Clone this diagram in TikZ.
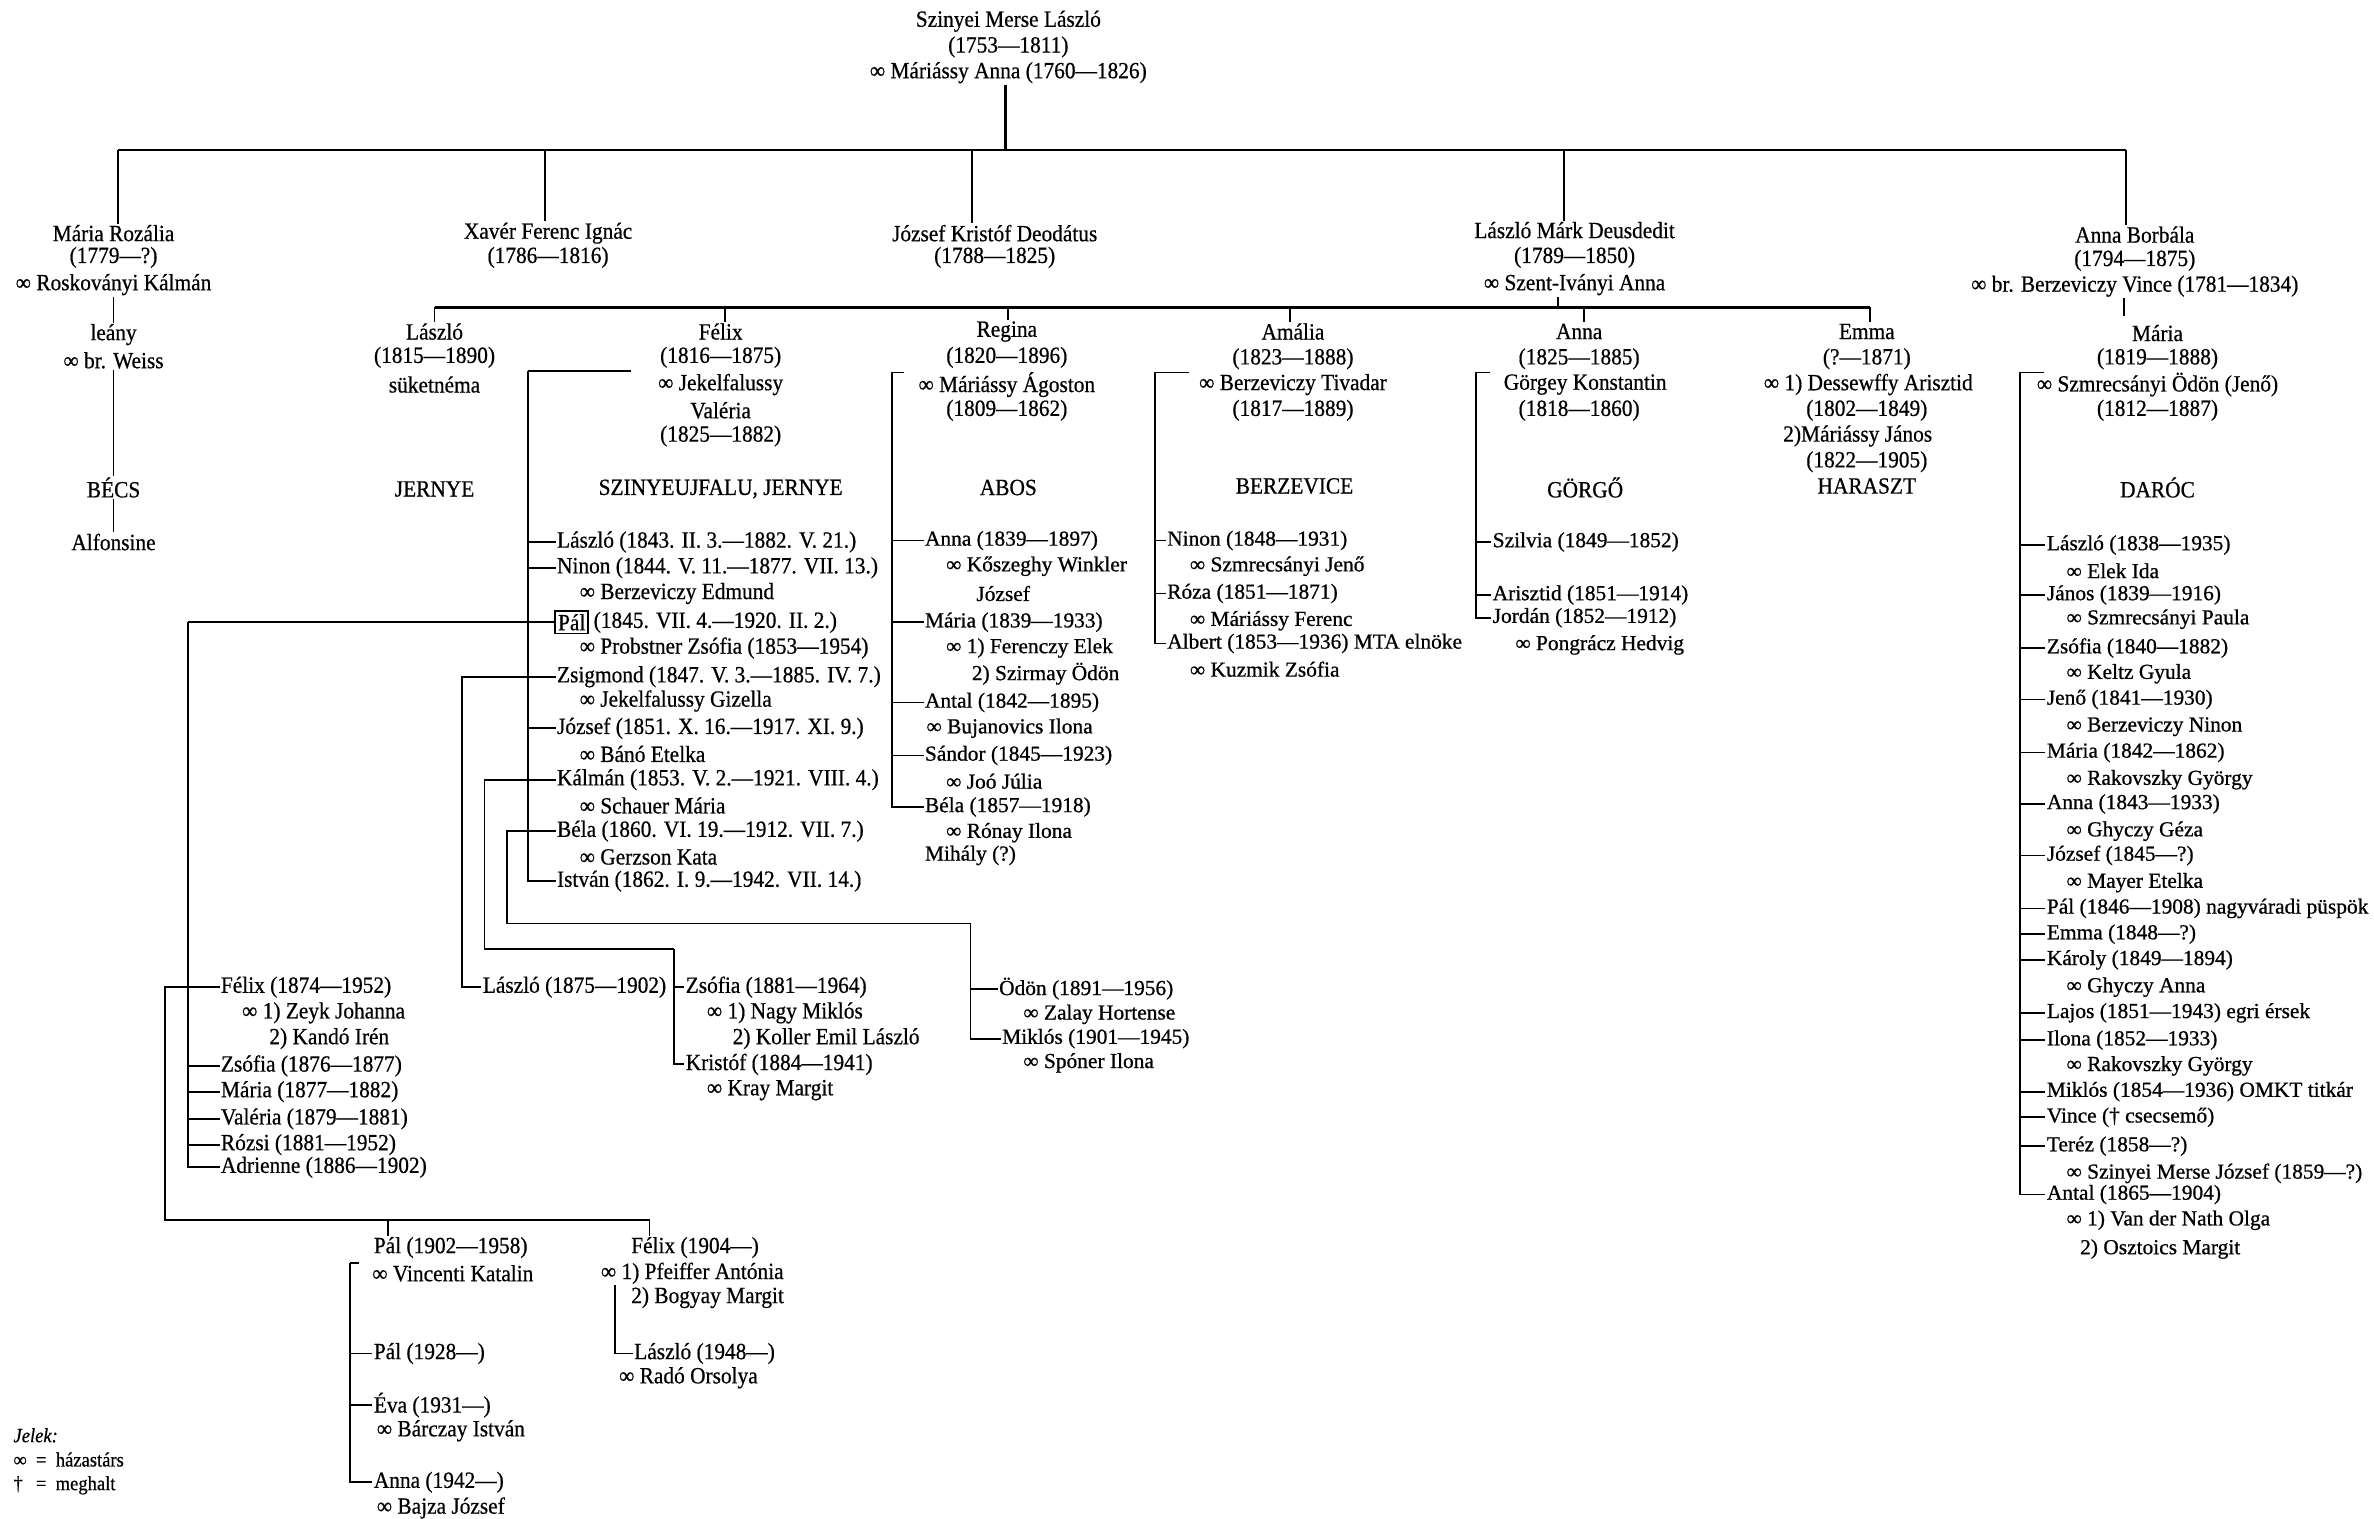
\documentclass[tikz,border=0pt]{standalone}
\usepackage{fontspec}
\setmainfont{Liberation Serif}
\newfontfamily\narrowfont[FakeStretch=0.92, FakeBold=0.6]{Liberation Serif}
\newfontfamily\widefont[FakeBold=0.8]{Liberation Serif}
\usetikzlibrary{positioning}

\begin{document}
\begin{tikzpicture}[x=0.75pt, y=-0.75pt,
	nar/.style={font=\narrowfont\fontsize{11.5}{13}\selectfont, inner sep=0.5pt},
	wid/.style={font=\widefont\fontsize{10.6}{12.5}\selectfont, inner sep=0.5pt},
	nl/.style={nar, anchor=west},
	wl/.style={wid, anchor=west},
	ln/.style={line width=0.9pt},
	bar/.style={line width=1.2pt}]
	\path[use as bounding box] (0,0) rectangle (1568,1003);
	
	% founder
	\node[nar] (root) at (666,14) {Szinyei Merse László};
	\node[nar] (rootd) at (666,31) {(1753—1811)};
	\node[nar] (roots) at (666,48) {∞ Máriássy Anna (1760—1826)};
	\coordinate (top) at (664,99);
	\draw[bar] (top |- roots.south) -- (top);
	
	% first generation
	\node[nar] (mr) at (75,154) {Mária Rozália};
	\node[nar] (mrd) at (75,170) {(1779—?)};
	\node[nar] (mrs) at (75,188) {∞ Roskoványi Kálmán};
	\node[nar] (ly) at (75,221) {leány};
	\node[nar] (lys) at (75,238) {∞ br. Weiss};
	\node[nar] (becs) at (75,322) {BÉCS};
	\node[nar] (alf) at (75,358) {Alfonsine};
	\draw[ln] (mrs) -- (ly);
	\draw[ln] (lys) -- (becs);
	\draw[ln] (becs) -- (alf);
	
	\node[nar] (xf) at (362,154) {Xavér Ferenc Ignác};
	\node[nar] (xfd) at (362,170) {(1786—1816)};
	
	\node[nar] (jk) at (657,154) {József Kristóf Deodátus};
	\node[nar] (jkd) at (657,170) {(1788—1825)};
	
	\node[nar] (lm) at (1040,152) {László Márk Deusdedit};
	\node[nar] (lmd) at (1040,170) {(1789—1850)};
	\node[nar] (lms) at (1040,188) {∞ Szent-Iványi Anna};
	
	\node[nar] (ab) at (1410,155) {Anna Borbála};
	\node[nar] (abd) at (1410,172) {(1794—1875)};
	\node[nar] (abs) at (1410,189) {∞ br. Berzeviczy Vince (1781—1834)};
	
	\coordinate (bl) at (78,99);
	\coordinate (brt) at (1404,99);
	\coordinate (dxf) at (360,99);
	\coordinate (djk) at (642,99);
	\coordinate (dlm) at (1033,99);
	\draw[bar] (bl) -- (brt);
	\draw[ln] (bl) -- (bl |- mr.north);
	\draw[ln] (brt) -- (brt |- ab.north);
	\foreach \d/\n in {dxf/xf, djk/jk, dlm/lm}
		\draw[ln] (\d) -- (\d |- \n.north);
	
	% Anna Borbala -> Maria
	\node[nar] (ma) at (1425,220) {Mária};
	\node[nar] (mad) at (1425,237) {(1819—1888)};
	\node[nar] (mas) at (1425,254) {∞ Szmrecsányi Ödön (Jenő)};
	\node[nar] (mas2) at (1425,271) {(1812—1887)};
	\node[nar] (daroc) at (1425,322) {DARÓC};
	\coordinate (abm) at (1403,209);
	\draw[ln] (abm |- abs.south) -- (abm);
	
	% second generation
	\node[nar] (la) at (287,219) {László};
	\node[nar] (lad) at (287,236) {(1815—1890)};
	\node[nar] (las) at (287,254) {süketnéma};
	\node[nar] (jernye) at (287,323) {JERNYE};
	
	\node[nar] (fe) at (476,219) {Félix};
	\node[nar] (fed) at (476,236) {(1816—1875)};
	\node[nar] (fes) at (476,254) {∞ Jekelfalussy};
	\node[nar] (fes2) at (476,271) {Valéria};
	\node[nar] (fes3) at (476,288) {(1825—1882)};
	\node[nar] (szu) at (476,323) {SZINYEUJFALU, JERNYE};
	
	\node[nar] (re) at (665,219) {Regina};
	\node[nar] (red) at (665,236) {(1820—1896)};
	\node[nar] (res) at (665,254) {∞ Máriássy Ágoston};
	\node[nar] (res2) at (665,271) {(1809—1862)};
	\node[nar] (abos) at (666,322) {ABOS};
	
	\node[nar] (am) at (854,219) {Amália};
	\node[nar] (amd) at (854,237) {(1823—1888)};
	\node[nar] (ams) at (854,254) {∞ Berzeviczy Tivadar};
	\node[nar] (ams2) at (854,271) {(1817—1889)};
	\node[nar] (berz) at (855,321) {BERZEVICE};
	
	\node[nar] (an) at (1043,219) {Anna};
	\node[nar] (annd) at (1043,237) {(1825—1885)};
	\node[nar] (anns) at (1047,254) {Görgey Konstantin};
	\node[nar] (anns2) at (1043,271) {(1818—1860)};
	\node[nar] (gorgo) at (1047,322) {GÖRGŐ};
	
	\node[nar] (em) at (1233,219) {Emma};
	\node[nar] (emd) at (1233,237) {(?—1871)};
	\node[nar] (ems) at (1234,254) {∞ 1) Dessewffy Arisztid};
	\node[nar] (ems2) at (1233,271) {(1802—1849)};
	\node[nar] (ems3) at (1227,288) {2)Máriássy János};
	\node[nar] (ems4) at (1233,305) {(1822—1905)};
	\node[nar] (har) at (1233,321) {HARASZT};
	
	\coordinate (gl) at (287,203);
	\coordinate (gr) at (1235,203);
	\coordinate (gm) at (1029,203);
	\coordinate (dfe) at (479,203);
	\coordinate (dre) at (666,203);
	\coordinate (dam) at (852,203);
	\coordinate (dan) at (1046,203);
	\draw[bar] (gl) -- (gr);
	\draw[ln] (gm) -- (gm |- lms.south);
	\draw[ln] (gl) -- (gl |- la.north);
	\draw[ln] (gr) -- (gr |- em.north);
	\foreach \d/\n in {dfe/fe, dre/re, dam/am, dan/an}
		\draw[ln] (\d) -- (\d |- \n.north);
	
	% Felix's children
	\coordinate (bf) at (349,245);
	\coordinate (bft) at (417,245);
	\node[nl] (fc1) at (367,358) {László (1843. II. 3.—1882. V. 21.)};
	\node[nl] (fc2) at (367,375) {Ninon (1844. V. 11.—1877. VII. 13.)};
	\node[nl] (fc2s) at (382,392) {∞ Berzeviczy Edmund};
	\node[nl, draw, line width=0.9pt, inner sep=1.5pt] (fc3) at (366,411) {Pál};
	\node[nl] (fc3d) at ([xshift=1.5pt]fc3.east) {(1845. VII. 4.—1920. II. 2.)};
	\node[nl] (fc3s) at (382,428) {∞ Probstner Zsófia (1853—1954)};
	\node[nl] (fc4) at (367,447) {Zsigmond (1847. V. 3.—1885. IV. 7.)};
	\node[nl] (fc4s) at (382,463) {∞ Jekelfalussy Gizella};
	\node[nl] (fc5) at (367,481) {József (1851. X. 16.—1917. XI. 9.)};
	\node[nl] (fc5s) at (382,498) {∞ Bánó Etelka};
	\node[nl] (fc6) at (367,515) {Kálmán (1853. V. 2.—1921. VIII. 4.)};
	\node[nl] (fc6s) at (382,532) {∞ Schauer Mária};
	\node[nl] (fc7) at (367,549) {Béla (1860. VI. 19.—1912. VII. 7.)};
	\node[nl] (fc7s) at (382,566) {∞ Gerzson Kata};
	\node[nl] (fc8) at (367,582) {István (1862. I. 9.—1942. VII. 14.)};
	\draw[ln] (bft) -- (bf);
	\foreach \c in {fc1,fc2,fc3,fc4,fc5,fc6,fc7,fc8}
		\draw[ln] (bf) |- (\c.west);
	
	% Pal's children
	\coordinate (pg) at (124,411);
	\node[nl] (g1) at (145,652) {Félix (1874—1952)};
	\node[nl] (g1s) at (159,669) {∞ 1) Zeyk Johanna};
	\node[nl] (g1s2) at (177,686) {2) Kandó Irén};
	\node[nl] (g2) at (145,704) {Zsófia (1876—1877)};
	\node[nl] (g3) at (145,721) {Mária (1877—1882)};
	\node[nl] (g4) at (145,739) {Valéria (1879—1881)};
	\node[nl] (g5) at (145,756) {Rózsi (1881—1952)};
	\node[nl] (g6) at (145,771) {Adrienne (1886—1902)};
	\draw[ln] (fc3.west) -- (pg);
	\foreach \c in {g1,g2,g3,g4,g5,g6}
		\draw[ln] (pg) |- (\c.west);
	
	% Zsigmond's son
	\coordinate (zg) at (305,447);
	\node[nl] (zl) at (318,652) {László (1875—1902)};
	\draw[ln] (fc4.west) -- (zg) |- (zl.west);
	
	% Kalman's children
	\coordinate (kg) at (320,515);
	\coordinate (kg2) at (445,627);
	\node[nl] (k1) at (452,652) {Zsófia (1881—1964)};
	\node[nl] (k1s) at (466,669) {∞ 1) Nagy Miklós};
	\node[nl] (k1s2) at (483,686) {2) Koller Emil László};
	\node[nl] (k2) at (452,703) {Kristóf (1884—1941)};
	\node[nl] (k2s) at (466,720) {∞ Kray Margit};
	\draw[ln] (fc6.west) -- (kg) |- (kg2);
	\draw[ln] (kg2) |- (k1.west);
	\draw[ln] (kg2) |- (k2.west);
	
	% Bela's children
	\coordinate (bg) at (335,549);
	\coordinate (bg2) at (641,610);
	\node[wl] (b1) at (659,653) {Ödön (1891—1956)};
	\node[wl] (b1s) at (675,670) {∞ Zalay Hortense};
	\node[wl] (b2) at (661,686) {Miklós (1901—1945)};
	\node[wl] (b2s) at (675,702) {∞ Spóner Ilona};
	\draw[ln] (fc7.west) -- (bg) |- (bg2);
	\draw[ln] (bg2) |- (b1.west);
	\draw[ln] (bg2) |- (b2.west);
	
	% Felix (1874) children
	\coordinate (fg) at (109,652);
	\coordinate (hd1) at (256,806);
	\coordinate (hd2) at (429,806);
	\node[nl] (h1) at (246,824) {Pál (1902—1958)};
	\node[nl] (h1s) at (245,841) {∞ Vincenti Katalin};
	\node[nl] (h2) at (416,824) {Félix (1904—)};
	\node[nl] (h2s) at (396,841) {∞ 1) Pfeiffer Antónia};
	\node[nl] (h2s2) at (416,857) {2) Bogyay Margit};
	\draw[ln] (g1.west) -- (fg) |- (hd2) -- (hd2 |- h2.north);
	\draw[ln] (hd1) -- (hd1 |- h1.north);
	
	\coordinate (hb) at (231,834);
	\coordinate (hbt) at (237,834);
	\node[nl] (h1c1) at (246,894) {Pál (1928—)};
	\node[nl] (h1c2) at (246,928) {Éva (1931—)};
	\node[nl] (h1c2s) at (248,945) {∞ Bárczay István};
	\node[nl] (h1c3) at (246,979) {Anna (1942—)};
	\node[nl] (h1c3s) at (248,996) {∞ Bajza József};
	\draw[ln] (hbt) -- (hb);
	\foreach \c in {h1c1,h1c2,h1c3}
		\draw[ln] (hb) |- (\c.west);
	
	\coordinate (fl) at (406,849);
	\node[nl] (h2c) at (418,894) {László (1948—)};
	\node[nl] (h2cs) at (408,910) {∞ Radó Orsolya};
	\draw[ln] (fl) |- (h2c.west);
	
	% Regina's children
	\coordinate (br) at (589,246);
	\coordinate (brr) at (597,246);
	\node[wl] (r1) at (610,357) {Anna (1839—1897)};
	\node[wl] (r1s) at (624,374) {∞ Kőszeghy Winkler};
	\node[wl] (r1s2) at (644,392) {József};
	\node[wl] (r2) at (610,411) {Mária (1839—1933)};
	\node[wl] (r2s) at (624,428) {∞ 1) Ferenczy Elek};
	\node[wl] (r2s2) at (641,445) {2) Szirmay Ödön};
	\node[wl] (r3) at (610,464) {Antal (1842—1895)};
	\node[wl] (r3s) at (611,481) {∞ Bujanovics Ilona};
	\node[wl] (r4) at (610,499) {Sándor (1845—1923)};
	\node[wl] (r4s) at (624,516) {∞ Joó Júlia};
	\node[wl] (r5) at (610,533) {Béla (1857—1918)};
	\node[wl] (r5s) at (624,550) {∞ Rónay Ilona};
	\node[wl] (r6) at (610,565) {Mihály (?)};
	\draw[ln] (brr) -- (br);
	\foreach \c in {r1,r2,r3,r4,r5}
		\draw[ln] (br) |- (\c.west);
	
	% Amalia's children
	\coordinate (ba) at (763,246);
	\coordinate (bar) at (785,246);
	\node[wl] (a1) at (770,357) {Ninon (1848—1931)};
	\node[wl] (a1s) at (785,374) {∞ Szmrecsányi Jenő};
	\node[wl] (a2) at (770,392) {Róza (1851—1871)};
	\node[wl] (a2s) at (785,410) {∞ Máriássy Ferenc};
	\node[wl] (a3) at (770,425) {Albert (1853—1936) MTA elnöke};
	\node[wl] (a3s) at (785,442) {∞ Kuzmik Zsófia};
	\draw[ln] (bar) -- (ba);
	\foreach \c in {a1,a2,a3}
		\draw[ln] (ba) |- (\c.west);
	
	% Anna's children
	\coordinate (bn) at (975,246);
	\coordinate (bnr) at (984,246);
	\node[wl] (n1) at (985,358) {Szilvia (1849—1852)};
	\node[wl] (n2) at (985,393) {Arisztid (1851—1914)};
	\node[wl] (n3) at (985,408) {Jordán (1852—1912)};
	\node[wl] (n3s) at (1000,426) {∞ Pongrácz Hedvig};
	\draw[ln] (bnr) -- (bn);
	\foreach \c in {n1,n2,n3}
		\draw[ln] (bn) |- (\c.west);
	
	% Maria's children
	\coordinate (bd) at (1334,246);
	\coordinate (bdr) at (1350,246);
	\node[wl] (d1) at (1351,360) {László (1838—1935)};
	\node[wl] (d1s) at (1364,377) {∞ Elek Ida};
	\node[wl] (d2) at (1351,393) {János (1839—1916)};
	\node[wl] (d2s) at (1364,409) {∞ Szmrecsányi Paula};
	\node[wl] (d3) at (1351,428) {Zsófia (1840—1882)};
	\node[wl] (d3s) at (1364,445) {∞ Keltz Gyula};
	\node[wl] (d4) at (1351,462) {Jenő (1841—1930)};
	\node[wl] (d4s) at (1364,480) {∞ Berzeviczy Ninon};
	\node[wl] (d5) at (1351,497) {Mária (1842—1862)};
	\node[wl] (d5s) at (1364,515) {∞ Rakovszky György};
	\node[wl] (d6) at (1351,531) {Anna (1843—1933)};
	\node[wl] (d6s) at (1364,549) {∞ Ghyczy Géza};
	\node[wl] (d7) at (1351,565) {József (1845—?)};
	\node[wl] (d7s) at (1364,583) {∞ Mayer Etelka};
	\node[wl] (d8) at (1351,600) {Pál (1846—1908) nagyváradi püspök};
	\node[wl] (d9) at (1351,617) {Emma (1848—?)};
	\node[wl] (d10) at (1351,634) {Károly (1849—1894)};
	\node[wl] (d10s) at (1364,652) {∞ Ghyczy Anna};
	\node[wl] (d11) at (1351,669) {Lajos (1851—1943) egri érsek};
	\node[wl] (d12) at (1351,687) {Ilona (1852—1933)};
	\node[wl] (d12s) at (1364,704) {∞ Rakovszky György};
	\node[wl] (d13) at (1351,721) {Miklós (1854—1936) OMKT titkár};
	\node[wl] (d14) at (1351,738) {Vince († csecsemő)};
	\node[wl] (d15) at (1351,757) {Teréz (1858—?)};
	\node[wl] (d15s) at (1364,775) {∞ Szinyei Merse József (1859—?)};
	\node[wl] (d16) at (1351,789) {Antal (1865—1904)};
	\node[wl] (d16s) at (1364,806) {∞ 1) Van der Nath Olga};
	\node[wl] (d16s2) at (1373,825) {2) Osztoics Margit};
	\draw[ln] (bdr) -- (bd);
	\foreach \c in {d1,d2,d3,d4,d5,d6,d7,d8,d9,d10,d11,d12,d13,d14,d15,d16}
		\draw[ln] (bd) |- (\c.west);
	
	% legend
	\node[nl, font=\narrowfont\fontsize{10}{12}\selectfont\itshape] (leg) at (8,948) {Jelek:};
	\node[nl, font=\narrowfont\fontsize{10}{12}\selectfont] (leg1) at (8,964) {∞\ \ =\ \ házastárs};
	\node[nl, font=\narrowfont\fontsize{10}{12}\selectfont] (leg2) at (8,981) {\makebox[6.5pt][l]{†}\ \ =\ \ meghalt};
\end{tikzpicture}
\end{document}
